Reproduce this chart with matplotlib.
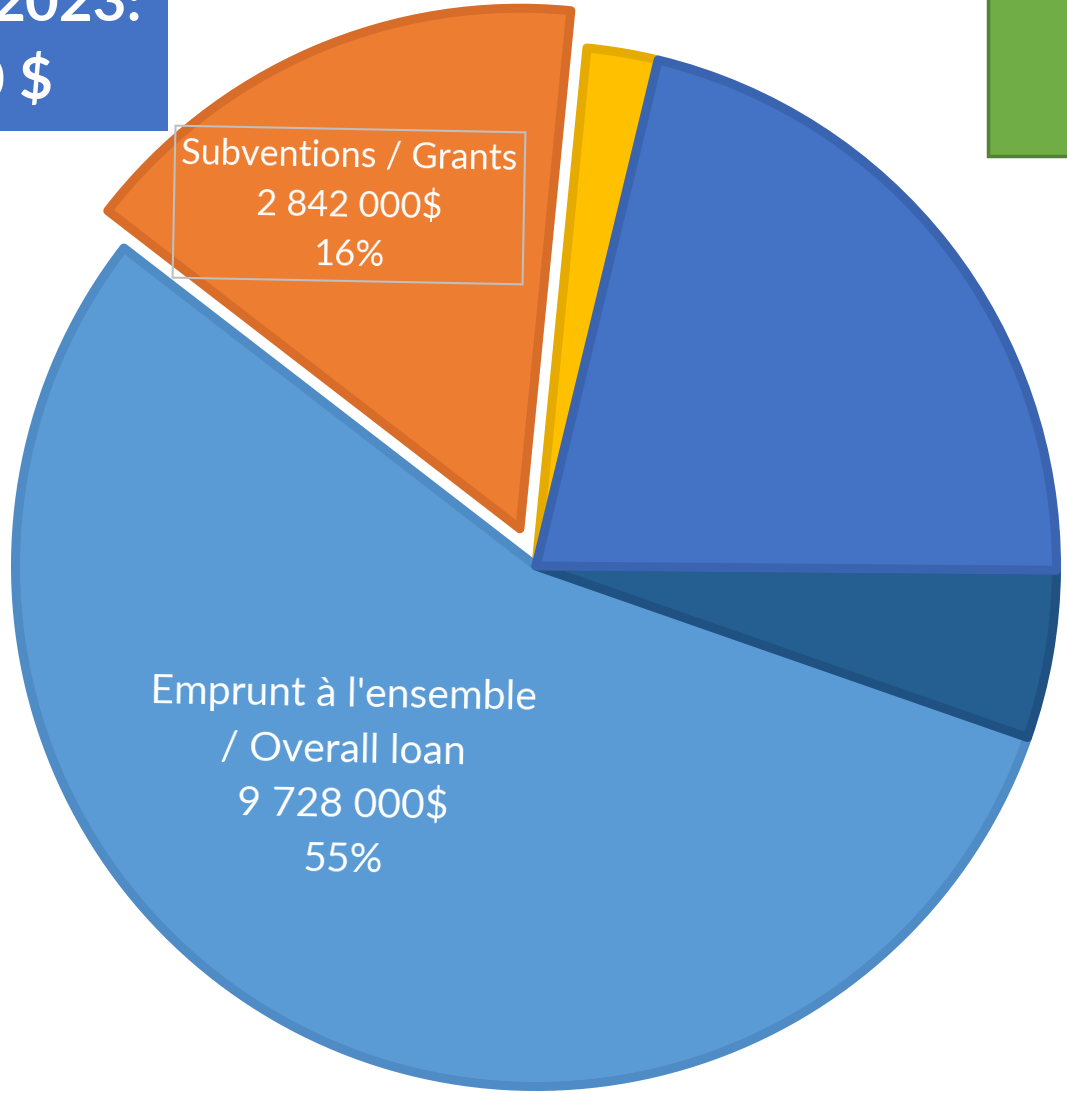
import matplotlib.pyplot as plt
from matplotlib.patches import Rectangle

# slices, counter-clockwise from the loan slice
labels = ["Emprunt à l'ensemble / Overall loan", "Autre 1", "Autre 2", "Autre 3", "Subventions / Grants"]
values = [9728000, 920000, 3770000, 390000, 2842000]
fills = ["#5B9BD5", "#255E91", "#4472C4", "#FFC000", "#ED7D31"]
edges = ["#4F8BC5", "#1F5283", "#3B64B0", "#E5AB00", "#D86D2A"]
explode_frac = [0, 0, 0, 0, 0.078]

loan_lines = ["Emprunt à l'ensemble", "/ Overall loan", "9 728 000$", "55%"]
grant_lines = ["Subventions / Grants", "2 842 000$", "16%"]

W, H = 1067, 1094
R = 520.5
fig = plt.figure(figsize=(W / 100, H / 100), dpi=100)
ax = fig.add_axes([0, 0, 1, 1])

# explode in pie() is in data units, so scale by the radius
wedges, _ = ax.pie(values, colors=fills, startangle=142.35, counterclock=True,
                   center=(536, H - 566), radius=R, explode=[e * R for e in explode_frac],
                   wedgeprops=dict(linewidth=6.5, joinstyle='round'), frame=True)
for i, (w, ec) in enumerate(zip(wedges, edges)):
    w.set_edgecolor(ec)
    w.set_zorder(1 + i * 0.1)
wedges[3].set_zorder(0.9)  # yellow sits under its neighbours at the centre

ax.set_xlim(0, W)
ax.set_ylim(0, H)
ax.set_aspect('equal')
ax.axis('off')

def py(y):
    return H - y

# title box top left (cropped)
ax.add_patch(Rectangle((-20, py(131)), 188, 160, facecolor="#4472C4", edgecolor="none", zorder=5))
ax.text(142, py(21), "2023:", color="white", fontsize=42, fontweight="bold", family="Lato",
        ha="right", va="baseline", zorder=6)
ax.text(53, py(99), "0 $", color="white", fontsize=42, fontweight="bold", family="Lato",
        ha="right", va="baseline", zorder=6)

# green box top right (cropped)
ax.add_patch(Rectangle((988, py(156)), 120, 200, facecolor="#70AD47", edgecolor="#548235",
                       linewidth=2.5, zorder=5))

# grants label box
ax.add_patch(Rectangle((174, py(281)), 350, 152, angle=-1.1, rotation_point="center",
                       facecolor="none", edgecolor="#BFBFBF", linewidth=1.5, zorder=6))
for txt, y in zip(grant_lines, [167, 217, 266]):
    ax.text(349, py(y), txt, color="white", fontsize=26, family="Lato", ha="center",
            va="baseline", rotation=-1, rotation_mode="anchor", zorder=7)

for txt, y in zip(loan_lines, [706, 762, 817, 872]):
    ax.text(343, py(y), txt, color="white", fontsize=29.5, family="Lato", ha="center",
            va="baseline", rotation=-1, rotation_mode="anchor", zorder=7)

fig.savefig("out.png", dpi=100)
